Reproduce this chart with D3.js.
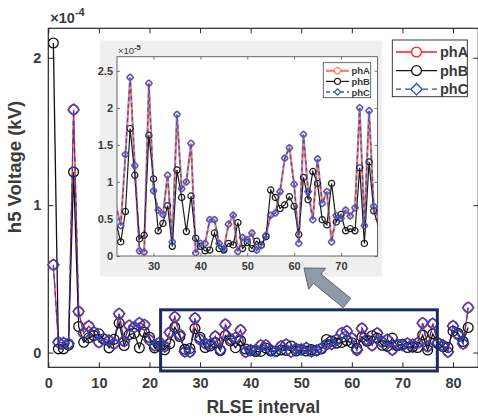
<!DOCTYPE html>
<html><head><meta charset="utf-8">
<script src="https://cdn.jsdelivr.net/npm/d3@7"></script>
<style>
body{margin:0;background:#fff}
svg{display:block;font-family:"Liberation Sans",Arial,sans-serif}
</style>
</head><body>
<svg id="chart" width="478" height="418"></svg>
<script>
// RLSE interval index and 5th-harmonic voltage per phase (values in units of 1e-5 kV)
const intervals = d3.range(1, 84);
const phA = [5.95,0.7,0.65,0.6,16.48,2.78,1.3,1.8,1.38,0.7,0.93,0.82,0.6,2.63,0.77,1.83,1.72,2.0,1.88,0.86,
  0.48,0.68,0.41,1.37,2.41,1.22,0.07,0.05,2.33,0.88,0.62,0.56,1.09,0.19,1.91,0.91,1.0,1.52,0.04,0.17,
  0.17,0.49,0.49,0.17,0.095,0.43,0.55,0.06,0.25,0.22,0.31,0.08,0.14,0.28,0.55,0.58,0.87,1.32,1.46,0.97,
  0.17,1.64,0.87,0.49,1.31,0.71,0.87,0.19,0.545,0.51,0.62,0.54,0.65,2.0,0.41,1.96,0.67,0.5,0.05,1.8,
  1.2,0.6,3.05];
const phB = [21.0,0.25,0.25,0.5,12.25,1.77,0.7,1.0,1.15,1.27,0.9,0.32,0.9,2.0,0.48,1.22,1.3,0.32,1.38,1.04,
  0.32,0.45,0.19,0.6,1.72,1.09,0.23,0.28,1.63,1.04,0.34,0.44,0.68,0.13,1.16,0.79,0.33,0.81,0.24,0.13,
  0.07,0.08,0.31,0.10,0.08,0.17,0.15,0.45,0.1,0.18,0.1,0.2,0.15,0.26,0.89,0.79,0.64,0.69,0.8,0.67,
  0.29,1.06,0.76,1.14,0.98,0.49,0.42,0.98,0.46,0.56,0.34,0.37,0.34,1.19,0.17,1.27,0.61,0.4,0.35,1.45,
  1.3,0.75,1.7];
const phC = [5.95,0.7,0.65,0.6,16.48,2.78,1.3,1.8,1.38,0.7,0.93,0.82,0.6,2.63,0.77,1.83,1.72,2.0,1.88,0.86,
  0.48,0.68,0.41,1.37,2.41,1.22,0.07,0.05,2.33,0.88,0.62,0.56,1.09,0.19,1.91,0.91,1.0,1.52,0.04,0.17,
  0.17,0.49,0.49,0.17,0.095,0.43,0.55,0.06,0.25,0.22,0.31,0.08,0.14,0.28,0.55,0.58,0.87,1.32,1.46,0.97,
  0.17,1.64,0.87,0.49,1.31,0.71,0.87,0.19,0.545,0.51,0.62,0.54,0.65,2.0,0.41,1.96,0.67,0.5,0.05,1.8,
  1.2,0.6,3.05];
const unit = 1e-5;
const seriesNames = ["phA", "phB", "phC"];

const xTicks = [0, 10, 20, 30, 40, 50, 60, 70, 80];
const yTicks = [0, 1e-4, 2e-4];
const insetXTicks = [30, 40, 50, 60, 70];
const insetYTicks = [0, 0.5e-5, 1e-5, 1.5e-5, 2e-5, 2.5e-5];
const zoomWindow = [22.2, 76.9];

const svg = d3.select("#chart");
const axisColor = "#262626", textColor = "#3a3a3a";

// custom square-diamond marker
const diamondType = { draw(ctx, size) { const h = Math.sqrt(size) / 2; ctx.moveTo(0, -h); ctx.lineTo(h, 0); ctx.lineTo(0, h); ctx.lineTo(-h, 0); ctx.closePath(); } };

function series(values) { return intervals.map((t, i) => ({ t, v: values[i] * unit })); }

// ---------- main axes ----------
const M = { left: 48.3, right: 478.3, top: 28.3, bottom: 367.3 };
const x = d3.scaleLinear().domain([0, 85]).range([M.left, M.right]);
const y = d3.scaleLinear().domain([-0.1e-4, 2.2e-4]).range([M.bottom, M.top]);

const main = svg.append("g");
main.append("g").attr("transform", `translate(0,${M.bottom})`)
  .call(d3.axisBottom(x).tickValues(xTicks).tickSize(-5).tickPadding(10).tickFormat(d3.format("d")));
main.append("g").attr("transform", `translate(0,${M.top})`)
  .call(d3.axisTop(x).tickValues(xTicks).tickSize(-5).tickFormat(""));
main.append("g").attr("transform", `translate(${M.left},0)`)
  .call(d3.axisLeft(y).tickValues(yTicks).tickSize(-5).tickPadding(7).tickFormat(d => d3.format("d")(d / 1e-4)));
main.append("g").attr("transform", `translate(${M.right},0)`)
  .call(d3.axisRight(y).tickValues(yTicks).tickSize(-5).tickFormat(""));
main.selectAll(".domain").remove();
main.selectAll(".tick line").attr("stroke", axisColor).attr("stroke-width", 1);
main.selectAll(".tick text").attr("fill", textColor).attr("font-size", 14.5).attr("font-weight", "bold").attr("font-family", "Liberation Sans, Arial, sans-serif");
main.append("rect").attr("x", M.left).attr("y", M.top).attr("width", M.right - M.left).attr("height", M.bottom - M.top)
  .attr("fill", "none").attr("stroke", axisColor).attr("stroke-width", 1.2);

// exponent label
const expMain = main.append("text").attr("x", M.left + 2).attr("y", 23).attr("fill", textColor)
  .attr("font-size", 14.5).attr("font-weight", "bold");
expMain.append("tspan").text("×10");
expMain.append("tspan").attr("dy", -7).attr("font-size", 11).text("-4");

main.append("text").attr("x", (M.left + M.right) / 2).attr("y", 413).attr("text-anchor", "middle")
  .attr("fill", textColor).attr("font-size", 17.5).attr("font-weight", "bold").text("RLSE interval");
main.append("text").attr("transform", "translate(21,167) rotate(-90)").attr("text-anchor", "middle")
  .attr("fill", textColor).attr("font-size", 18.5).attr("font-weight", "bold").text("h5 Voltage (kV)");

const mainStyles = {
  phA: { color: "#ff1a1a", dash: null, marker: d3.symbolCircle },
  phB: { color: "#111111", dash: null, marker: d3.symbolCircle },
  phC: { color: "#2646c8", dash: "5,4", marker: diamondType }
};
const mainData = { phA: series(phA), phB: series(phB), phC: series(phC) };
const mainLine = d3.line().x(d => x(d.t)).y(d => y(d.v));
seriesNames.forEach(name => {
  const s = mainStyles[name];
  const g = main.append("g");
  g.append("path").datum(mainData[name]).attr("d", mainLine).attr("fill", "none")
    .attr("stroke", s.color).attr("stroke-width", 1.3).attr("stroke-dasharray", s.dash);
  const sym = s.marker === diamondType ? d3.symbol().type(diamondType).size(130) : d3.symbol().type(d3.symbolCircle).size(75);
  g.selectAll("path.m").data(mainData[name]).join("path").attr("class", "m")
    .attr("transform", d => `translate(${x(d.t)},${y(d.v)})`).attr("d", sym)
    .attr("fill", "none").attr("stroke", s.color).attr("stroke-width", 1.3);
});

// highlighted window
main.append("rect").attr("x", x(zoomWindow[0])).attr("y", y(0.29e-4))
  .attr("width", x(zoomWindow[1]) - x(zoomWindow[0])).attr("height", y(-0.125e-4) - y(0.29e-4))
  .attr("fill", "none").attr("stroke", "#1d2a62").attr("stroke-width", 3);

// main legend
const leg = main.append("g");
leg.append("rect").attr("x", 392.3).attr("y", 40).attr("width", 75).attr("height", 56.7)
  .attr("fill", "#fff").attr("stroke", axisColor).attr("stroke-width", 0.9);
seriesNames.forEach((name, i) => {
  const s = mainStyles[name], ly = 52 + i * 18.6;
  leg.append("line").attr("x1", 396).attr("x2", 437).attr("y1", ly).attr("y2", ly)
    .attr("stroke", s.color).attr("stroke-width", 1.3).attr("stroke-dasharray", s.dash);
  const sym = s.marker === diamondType ? d3.symbol().type(diamondType).size(130) : d3.symbol().type(d3.symbolCircle).size(75);
  leg.append("path").attr("transform", `translate(416.5,${ly})`).attr("d", sym)
    .attr("fill", "#fff").attr("stroke", s.color).attr("stroke-width", 1.3);
  leg.append("text").attr("x", 440).attr("y", ly + 5).attr("fill", textColor)
    .attr("font-size", 14.5).attr("font-weight", "bold").text(name);
});

// ---------- inset (zoomed view) ----------
const I = { left: 117, right: 377.5, top: 56.7, bottom: 256 };
const ix = d3.scaleLinear().domain([22.2, 77.8]).range([I.left, I.right]);
const iy = d3.scaleLinear().domain([0, 2.69e-5]).range([I.bottom, I.top]);
const inset = svg.append("g");
inset.append("rect").attr("x", 100).attr("y", 40.5).attr("width", 282).attr("height", 236).attr("fill", "#efefef");
inset.append("rect").attr("x", I.left).attr("y", I.top).attr("width", I.right - I.left).attr("height", I.bottom - I.top).attr("fill", "#fff");
inset.append("clipPath").attr("id", "insetClip").append("rect")
  .attr("x", I.left).attr("y", I.top - 6).attr("width", I.right - I.left).attr("height", I.bottom - I.top + 6);

inset.append("g").attr("transform", `translate(0,${I.bottom})`)
  .call(d3.axisBottom(ix).tickValues(insetXTicks).tickSize(-3).tickPadding(6).tickFormat(d3.format("d")));
inset.append("g").attr("transform", `translate(0,${I.top})`)
  .call(d3.axisTop(ix).tickValues(insetXTicks).tickSize(-3).tickFormat(""));
inset.append("g").attr("transform", `translate(${I.left},0)`)
  .call(d3.axisLeft(iy).tickValues(insetYTicks).tickSize(-3).tickPadding(4).tickFormat(d => d3.format("~g")(+(d / 1e-5).toFixed(1))));
inset.append("g").attr("transform", `translate(${I.right},0)`)
  .call(d3.axisRight(iy).tickValues(insetYTicks).tickSize(-3).tickFormat(""));
inset.selectAll(".domain").remove();
inset.selectAll(".tick line").attr("stroke", "#555").attr("stroke-width", 0.8);
inset.selectAll(".tick text").attr("fill", textColor).attr("font-size", 11).attr("font-weight", "bold").attr("font-family", "Liberation Sans, Arial, sans-serif");
inset.append("rect").attr("x", I.left).attr("y", I.top).attr("width", I.right - I.left).attr("height", I.bottom - I.top)
  .attr("fill", "none").attr("stroke", "#555").attr("stroke-width", 0.9);
const expInset = inset.append("text").attr("x", I.left + 1).attr("y", 54).attr("fill", textColor).attr("font-size", 9.5);
expInset.append("tspan").text("×10");
expInset.append("tspan").attr("dy", -4).attr("font-size", 7.5).attr("font-weight", "bold").text("-5");

const insetStyles = {
  phA: { color: "#f4806c", dash: null, width: 2.2, marker: d3.symbolCircle },
  phB: { color: "#1a1a1a", dash: null, width: 1.2, marker: d3.symbolCircle },
  phC: { color: "#3558cc", dash: "4,3", width: 1.4, marker: diamondType }
};
const insetLine = d3.line().x(d => ix(d.t)).y(d => iy(d.v));
const plotArea = inset.append("g").attr("clip-path", "url(#insetClip)");
seriesNames.forEach(name => {
  const s = insetStyles[name];
  const pts = mainData[name].filter(d => d.t >= 21 && d.t <= 79);
  plotArea.append("path").datum(pts).attr("d", insetLine).attr("fill", "none")
    .attr("stroke", s.color).attr("stroke-width", s.width).attr("stroke-dasharray", s.dash);
  const sym = s.marker === diamondType ? d3.symbol().type(diamondType).size(42) : d3.symbol().type(d3.symbolCircle).size(30);
  plotArea.selectAll(null).data(pts.filter(d => d.t >= 23 && d.t <= 77)).join("path")
    .attr("transform", d => `translate(${ix(d.t)},${iy(d.v)})`).attr("d", sym)
    .attr("fill", "none").attr("stroke", s.color).attr("stroke-width", 1.2);
});

// inset legend
const ileg = inset.append("g");
ileg.append("rect").attr("x", 323.3).attr("y", 62.7).attr("width", 47.4).attr("height", 35)
  .attr("fill", "#fff").attr("stroke", "#444").attr("stroke-width", 0.8);
seriesNames.forEach((name, i) => {
  const s = insetStyles[name], ly = 70.8 + i * 10.6;
  ileg.append("line").attr("x1", 326).attr("x2", 349).attr("y1", ly).attr("y2", ly)
    .attr("stroke", s.color).attr("stroke-width", s.width).attr("stroke-dasharray", s.dash);
  const sym = s.marker === diamondType ? d3.symbol().type(diamondType).size(42) : d3.symbol().type(d3.symbolCircle).size(30);
  ileg.append("path").attr("transform", `translate(337.5,${ly})`).attr("d", sym)
    .attr("fill", "#fff").attr("stroke", s.color).attr("stroke-width", 1.2);
  ileg.append("text").attr("x", 351.5).attr("y", ly + 3.5).attr("fill", textColor)
    .attr("font-size", 9.5).attr("font-weight", "bold").text(name);
});

// arrow from the highlighted window up to the inset
(function drawArrow() {
  const tail = [347, 303], tip = [304, 268];
  const dx = tip[0] - tail[0], dy = tip[1] - tail[1], L = Math.hypot(dx, dy);
  const ux = dx / L, uy = dy / L, nx = -uy, ny = ux;
  const shaftW = 6, headW = 13.5, headL = 17;
  const bx = tip[0] - ux * headL, by = tip[1] - uy * headL;
  const p = [
    [tail[0] + nx * shaftW, tail[1] + ny * shaftW],
    [bx + nx * shaftW, by + ny * shaftW],
    [bx + nx * headW, by + ny * headW],
    tip,
    [bx - nx * headW, by - ny * headW],
    [bx - nx * shaftW, by - ny * shaftW],
    [tail[0] - nx * shaftW, tail[1] - ny * shaftW]
  ];
  svg.append("path").attr("d", "M" + p.map(q => q.join(",")).join("L") + "Z")
    .attr("fill", "#8f9ba8").attr("stroke", "#5b6672").attr("stroke-width", 1);
})();
</script>
</body></html>
